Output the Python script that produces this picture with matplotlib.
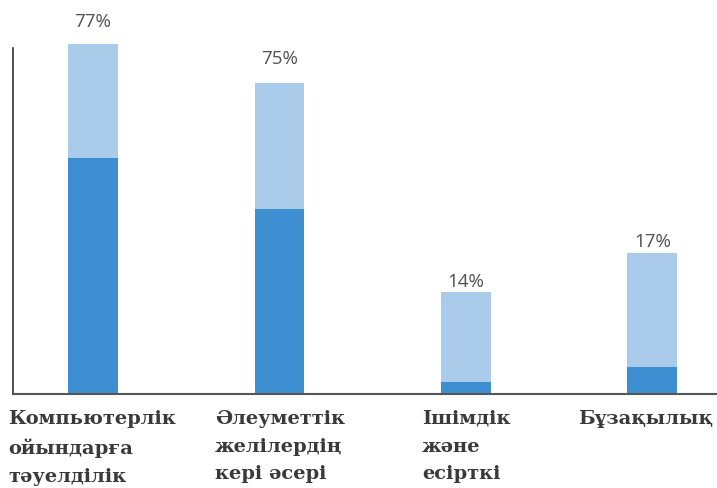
import matplotlib.pyplot as plt

# данные (высоты столбцов в условных единицах)
categories = ["Компьютерлік\nойындарға\nтәуелділік",
              "Әлеуметтік\nжелілердің\nкері әсері",
              "Ішімдік\nжәне\nесірткі",
              "Бұзақылық"]
total_height = [77.8, 69.1, 22.7, 31.3]
dark_height = [52.4, 41.1, 2.7, 6.0]
pct_labels = ["77%", "75%", "14%", "17%"]

dark_blue = "#3d8fd1"
light_blue = "#aacbea"

fig = plt.figure(figsize=(7.17, 4.88), dpi=100)
ax = fig.add_axes([13 / 717, (488 - 394) / 488, 704 / 717, 394 / 488])

x = range(len(categories))
light_part = [t - d for t, d in zip(total_height, dark_height)]
ax.bar(x, dark_height, width=0.268, color=dark_blue, linewidth=0)
ax.bar(x, light_part, bottom=dark_height, width=0.268, color=light_blue, linewidth=0)

# зазор между подписью и столбцом (в пикселях), как на оригинале
gap_px = [13, 15, 1, 2]
for xi, t, lab, g in zip(x, total_height, pct_labels, gap_px):
    ax.annotate(lab, (xi, t), xytext=(0, g * 0.72), textcoords="offset points",
                ha="center", va="bottom", fontsize=13.5, color="#505050",
                family="Open Sans")

ax.set_xlim(-0.429, 3.346)
ax.set_ylim(0, 87.6)
for s in ["top", "right"]:
    ax.spines[s].set_visible(False)
ax.spines["left"].set_bounds(0, 76.9)
ax.spines["left"].set_color("#333333")
ax.spines["bottom"].set_color("#555555")
ax.spines["left"].set_linewidth(1.2)
ax.spines["bottom"].set_linewidth(1.5)
ax.set_xticks([])
ax.set_yticks([])

# подписи категорий слева от столбцов
label_x = [8, 215, 422, 578]
for lx, cat in zip(label_x, categories):
    fig.text(lx / 717, 1 - 410 / 488, cat, ha="left", va="top",
             fontsize=14, color="#3a3a3a", family="DejaVu Serif",
             weight="bold", linespacing=1.68)

fig.savefig("out.png", dpi=100)
